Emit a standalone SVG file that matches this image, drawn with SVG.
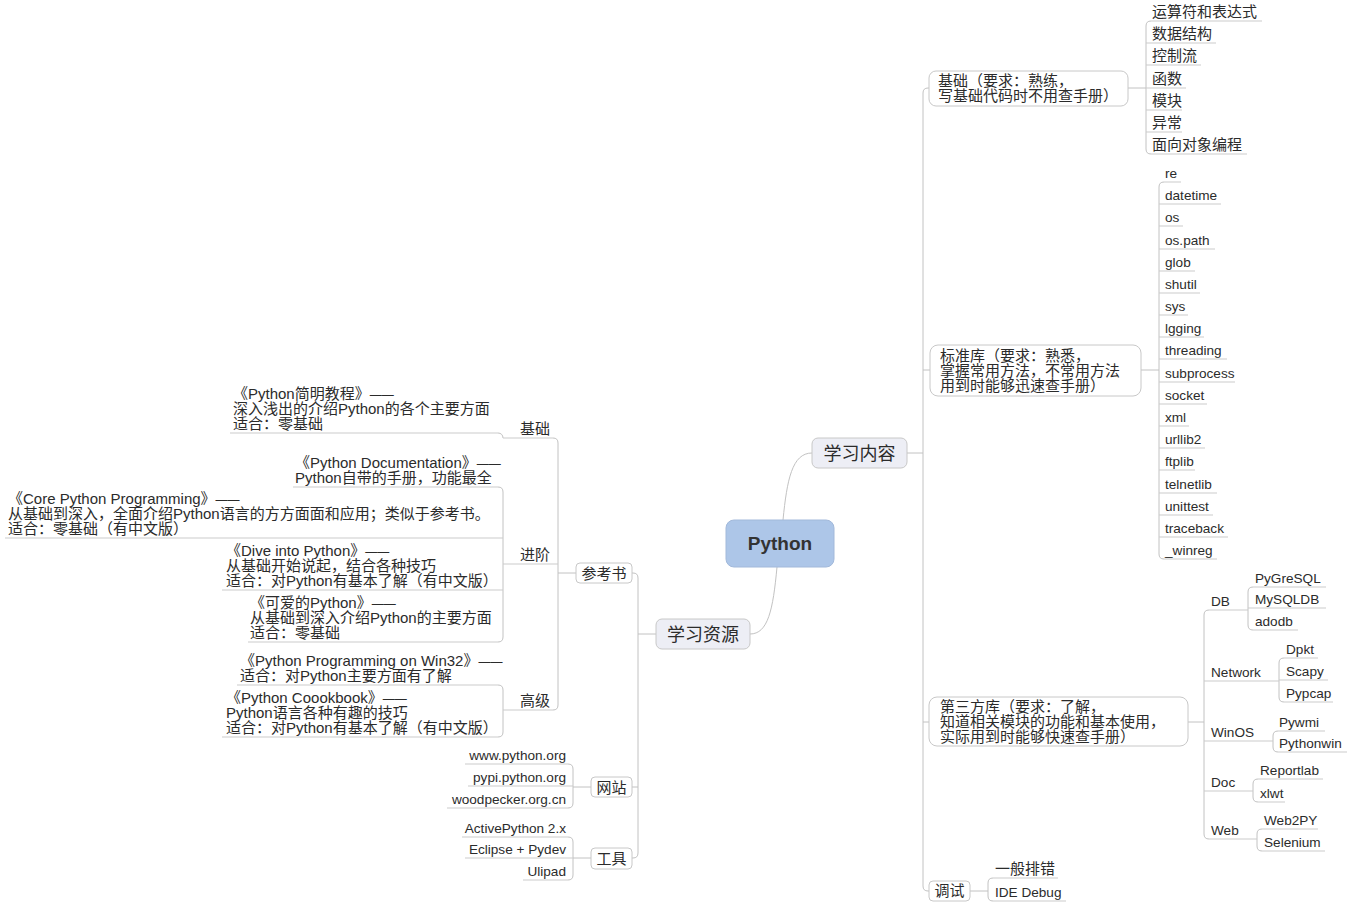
<svg xmlns="http://www.w3.org/2000/svg" width="1352" height="907" viewBox="0 0 1352 907">
<style>
.t{font-family:"Liberation Sans","Noto Sans CJK SC",sans-serif;font-size:15px;fill:#2b2b2b}
.l{font-size:13.6px}
.e{text-anchor:end}
.m{text-anchor:middle}
.d{font-size:12px}
.ln{fill:none;stroke:#c2c2c2;stroke-width:1}
.ul{fill:none;stroke:#cbcbcb;stroke-width:1}
.box{fill:#ffffff;stroke:#c8c8c8;stroke-width:1}
.mt{fill:#edeef5;stroke:#c8c8c8;stroke-width:1}
</style>
<rect width="1352" height="907" fill="#ffffff"/>
<g id="connectors" class="ln">
<path d="M783,520 C787,480 792,453 812,453"/>
<path d="M777,567 C773,610 768,634 750,634"/>
<path d="M907,453 H923"/>
<path d="M929,88 H928 Q923,88 923,93 V886 Q923,891 928,891 H929"/>
<path d="M923,370 H930 M923,722 H929"/>
<path d="M1128,88 H1146 M1151,21 Q1146,21 1146,26 V149 Q1146,154 1151,154"/>
<path d="M1141,370 H1159 M1164,182 Q1159,182 1159,187 V554 Q1159,559 1164,559"/>
<path d="M1188,722 H1204 M1209,610 Q1204,610 1204,615 V834 Q1204,839 1209,839"/>
<path d="M1253,587 Q1248,587 1248,592 V625 Q1248,630 1253,630"/>
<path d="M1284,658 Q1279,658 1279,663 V697 Q1279,702 1284,702"/>
<path d="M1278,731 Q1273,731 1273,736 V747 Q1273,752 1278,752"/>
<path d="M1258,779 Q1253,779 1253,784 V797 Q1253,802 1258,802"/>
<path d="M1262,829 Q1257,829 1257,834 V846 Q1257,851 1262,851"/>
<path d="M970,891 H988 M993,878 Q988,878 988,883 V896 Q988,901 993,901"/>
<path d="M656,634 H638"/>
<path d="M632,573 H633 Q638,573 638,578 V853 Q638,858 633,858 H632 M638,787 H632"/>
<path d="M576,573 H558 M553,438 Q558,438 558,443 V705 Q558,710 553,710"/>
<path d="M503,438 C503,435 501,433 498,433"/>
<path d="M498,487 Q503,487 503,492 V637 Q503,642 498,642"/>
<path d="M498,685 Q503,685 503,690 V732 Q503,737 498,737"/>
<path d="M591,787 H573 M568,764 Q573,764 573,769 V803 Q573,808 568,808"/>
<path d="M591,858 H573 M568,837 Q573,837 573,842 V875 Q573,880 568,880"/>
</g>
<g id="n-python"><rect x="726" y="520" width="108" height="47" rx="8" fill="#adc6e8" stroke="#a2b9da"/><text class="t m" x="780" y="550" style="font-size:19px;font-weight:bold;fill:#333">Python</text></g>
<g id="n-content"><rect class="mt" x="812" y="438" width="95" height="30" rx="6"/><text class="t m" x="859.5" y="459.5" style="font-size:18px">学习内容</text></g>
<g id="n-resource"><rect class="mt" x="656" y="619" width="94" height="30" rx="6"/><text class="t m" x="703" y="640.5" style="font-size:18px">学习资源</text></g>
<g id="n-basic"><rect class="box" x="929" y="71" width="199" height="35" rx="7"/><text class="t" x="938" y="85.5">基础（要求：熟练，</text><text class="t" x="938" y="100.5">写基础代码时不用查手册）</text></g>
<g id="n-b1"><path class="ul" d="M1151,21 H1262"/><text class="t" x="1152" y="17">运算符和表达式</text></g>
<g id="n-b2"><path class="ul" d="M1146,43 H1216"/><text class="t" x="1152" y="39">数据结构</text></g>
<g id="n-b3"><path class="ul" d="M1146,65 H1201"/><text class="t" x="1152" y="61">控制流</text></g>
<g id="n-b4"><path class="ul" d="M1146,88 H1186"/><text class="t" x="1152" y="84">函数</text></g>
<g id="n-b5"><path class="ul" d="M1146,110 H1182"/><text class="t" x="1152" y="106">模块</text></g>
<g id="n-b6"><path class="ul" d="M1146,132 H1182"/><text class="t" x="1152" y="128">异常</text></g>
<g id="n-b7"><path class="ul" d="M1151,154 H1247"/><text class="t" x="1152" y="150">面向对象编程</text></g>
<g id="n-std"><rect class="box" x="930" y="345" width="211" height="51" rx="8"/><text class="t" x="940" y="360.5">标准库（要求：熟悉，</text><text class="t" x="940" y="375.5">掌握常用方法，不常用方法</text><text class="t" x="940" y="390.5">用到时能够迅速查手册）</text></g>
<g id="n-s1"><path class="ul" d="M1164,182 H1181"/><text class="t l" x="1165" y="178">re</text></g>
<g id="n-s2"><path class="ul" d="M1159,204 H1221"/><text class="t l" x="1165" y="200">datetime</text></g>
<g id="n-s3"><path class="ul" d="M1159,226 H1183"/><text class="t l" x="1165" y="222">os</text></g>
<g id="n-s4"><path class="ul" d="M1159,249 H1215"/><text class="t l" x="1165" y="245">os.path</text></g>
<g id="n-s5"><path class="ul" d="M1159,271 H1195"/><text class="t l" x="1165" y="267">glob</text></g>
<g id="n-s6"><path class="ul" d="M1159,293 H1200"/><text class="t l" x="1165" y="289">shutil</text></g>
<g id="n-s7"><path class="ul" d="M1159,315 H1188"/><text class="t l" x="1165" y="311">sys</text></g>
<g id="n-s8"><path class="ul" d="M1159,337 H1204"/><text class="t l" x="1165" y="333">lgging</text></g>
<g id="n-s9"><path class="ul" d="M1159,359 H1227"/><text class="t l" x="1165" y="355">threading</text></g>
<g id="n-s10"><path class="ul" d="M1159,382 H1235"/><text class="t l" x="1165" y="378">subprocess</text></g>
<g id="n-s11"><path class="ul" d="M1159,404 H1207"/><text class="t l" x="1165" y="400">socket</text></g>
<g id="n-s12"><path class="ul" d="M1159,426 H1189"/><text class="t l" x="1165" y="422">xml</text></g>
<g id="n-s13"><path class="ul" d="M1159,448 H1205"/><text class="t l" x="1165" y="444">urllib2</text></g>
<g id="n-s14"><path class="ul" d="M1159,470 H1195"/><text class="t l" x="1165" y="466">ftplib</text></g>
<g id="n-s15"><path class="ul" d="M1159,493 H1217"/><text class="t l" x="1165" y="489">telnetlib</text></g>
<g id="n-s16"><path class="ul" d="M1159,515 H1213"/><text class="t l" x="1165" y="511">unittest</text></g>
<g id="n-s17"><path class="ul" d="M1159,537 H1228"/><text class="t l" x="1165" y="533">traceback</text></g>
<g id="n-s18"><path class="ul" d="M1164,559 H1217"/><text class="t l" x="1165" y="555">_winreg</text></g>
<g id="n-third"><rect class="box" x="929" y="697" width="259" height="49" rx="8"/><text class="t" x="940" y="711.5">第三方库（要求：了解，</text><text class="t" x="940" y="726.5">知道相关模块的功能和基本使用，</text><text class="t" x="940" y="741.5">实际用到时能够快速查手册）</text></g>
<g id="n-db"><path class="ul" d="M1209,610 H1248"/><text class="t l" x="1211" y="605.5">DB</text></g>
<g id="n-db1"><path class="ul" d="M1253,587 H1326"/><text class="t l" x="1255" y="582.5">PyGreSQL</text></g>
<g id="n-db2"><path class="ul" d="M1248,608 H1326"/><text class="t l" x="1255" y="603.5">MySQLDB</text></g>
<g id="n-db3"><path class="ul" d="M1253,630 H1298"/><text class="t l" x="1255" y="625.5">adodb</text></g>
<g id="n-net"><path class="ul" d="M1204,681 H1279"/><text class="t l" x="1211" y="676.5">Network</text></g>
<g id="n-net1"><path class="ul" d="M1284,658 H1318"/><text class="t l" x="1286" y="653.5">Dpkt</text></g>
<g id="n-net2"><path class="ul" d="M1279,680 H1328"/><text class="t l" x="1286" y="675.5">Scapy</text></g>
<g id="n-net3"><path class="ul" d="M1284,702 H1333"/><text class="t l" x="1286" y="697.5">Pypcap</text></g>
<g id="n-win"><path class="ul" d="M1204,741 H1273"/><text class="t l" x="1211" y="736.5">WinOS</text></g>
<g id="n-win1"><path class="ul" d="M1278,731 H1325"/><text class="t l" x="1279" y="726.5">Pywmi</text></g>
<g id="n-win2"><path class="ul" d="M1278,752 H1347"/><text class="t l" x="1279" y="747.5">Pythonwin</text></g>
<g id="n-doc"><path class="ul" d="M1204,791 H1253"/><text class="t l" x="1211" y="786.5">Doc</text></g>
<g id="n-doc1"><path class="ul" d="M1258,779 H1323"/><text class="t l" x="1260" y="774.5">Reportlab</text></g>
<g id="n-doc2"><path class="ul" d="M1258,802 H1285"/><text class="t l" x="1260" y="797.5">xlwt</text></g>
<g id="n-web"><path class="ul" d="M1209,839 H1257"/><text class="t l" x="1211" y="834.5">Web</text></g>
<g id="n-web1"><path class="ul" d="M1262,829 H1318"/><text class="t l" x="1264" y="824.5">Web2PY</text></g>
<g id="n-web2"><path class="ul" d="M1262,851 H1325"/><text class="t l" x="1264" y="846.5">Selenium</text></g>
<g id="n-debug"><rect class="box" x="929" y="881" width="41" height="20" rx="4"/><text class="t m" x="949.5" y="896">调试</text></g>
<g id="n-d1"><path class="ul" d="M993,878 H1058"/><text class="t" x="995" y="874">一般排错</text></g>
<g id="n-d2"><path class="ul" d="M993,901 H1066"/><text class="t l" x="995" y="897">IDE Debug</text></g>
<g id="n-books"><rect class="box" x="576" y="563" width="56" height="20" rx="4"/><text class="t m" x="604" y="578.5">参考书</text></g>
<g id="n-lb"><path class="ul" d="M503,438 H553"/><text class="t e" x="550" y="434">基础</text></g>
<g id="n-lb1"><path class="ul" d="M230,433 H498"/><text class="t" x="233" y="399">《Python简明教程》<tspan class="d">——</tspan></text><text class="t" x="233" y="414">深入浅出的介绍Python的各个主要方面</text><text class="t" x="233" y="429">适合：零基础</text></g>
<g id="n-la"><path class="ul" d="M503,564 H558"/><text class="t e" x="550" y="560">进阶</text></g>
<g id="n-la1"><path class="ul" d="M293,487 H498"/><text class="t" x="295" y="468">《Python Documentation》<tspan class="d">——</tspan></text><text class="t" x="295" y="483">Python自带的手册，功能最全</text></g>
<g id="n-la2"><path class="ul" d="M5,538 H503"/><text class="t" x="8" y="504">《Core Python Programming》<tspan class="d">——</tspan></text><text class="t" x="8" y="519">从基础到深入，全面介绍Python语言的方方面面和应用；类似于参考书。</text><text class="t" x="8" y="534">适合：零基础（有中文版）</text></g>
<g id="n-la3"><path class="ul" d="M222,590 H503"/><text class="t" x="226" y="556">《Dive into Python》<tspan class="d">——</tspan></text><text class="t" x="226" y="571">从基础开始说起，结合各种技巧</text><text class="t" x="226" y="586">适合：对Python有基本了解（有中文版）</text></g>
<g id="n-la4"><path class="ul" d="M248,642 H498"/><text class="t" x="250" y="608">《可爱的Python》<tspan class="d">——</tspan></text><text class="t" x="250" y="623">从基础到深入介绍Python的主要方面</text><text class="t" x="250" y="638">适合：零基础</text></g>
<g id="n-lh"><path class="ul" d="M503,710 H553"/><text class="t e" x="550" y="706">高级</text></g>
<g id="n-lh1"><path class="ul" d="M237,685 H498"/><text class="t" x="240" y="666">《Python Programming on Win32》<tspan class="d">——</tspan></text><text class="t" x="240" y="681">适合：对Python主要方面有了解</text></g>
<g id="n-lh2"><path class="ul" d="M222,737 H498"/><text class="t" x="226" y="703">《Python Coookbook》<tspan class="d">——</tspan></text><text class="t" x="226" y="718">Python语言各种有趣的技巧</text><text class="t" x="226" y="733">适合：对Python有基本了解（有中文版）</text></g>
<g id="n-sites"><rect class="box" x="591" y="777" width="41" height="20" rx="4"/><text class="t m" x="611.5" y="792.5">网站</text></g>
<g id="n-w1"><path class="ul" d="M465,764 H568"/><text class="t l e" x="566" y="760">www.python.org</text></g>
<g id="n-w2"><path class="ul" d="M468,786 H573"/><text class="t l e" x="566" y="782">pypi.python.org</text></g>
<g id="n-w3"><path class="ul" d="M447,808 H568"/><text class="t l e" x="566" y="804">woodpecker.org.cn</text></g>
<g id="n-tools"><rect class="box" x="591" y="848" width="41" height="21" rx="4"/><text class="t m" x="611.5" y="863.5">工具</text></g>
<g id="n-t1"><path class="ul" d="M462,837 H568"/><text class="t l e" x="566" y="833">ActivePython 2.x</text></g>
<g id="n-t2"><path class="ul" d="M465,858 H573"/><text class="t l e" x="566" y="854">Eclipse + Pydev</text></g>
<g id="n-t3"><path class="ul" d="M523,880 H568"/><text class="t l e" x="566" y="876">Ulipad</text></g>
</svg>
